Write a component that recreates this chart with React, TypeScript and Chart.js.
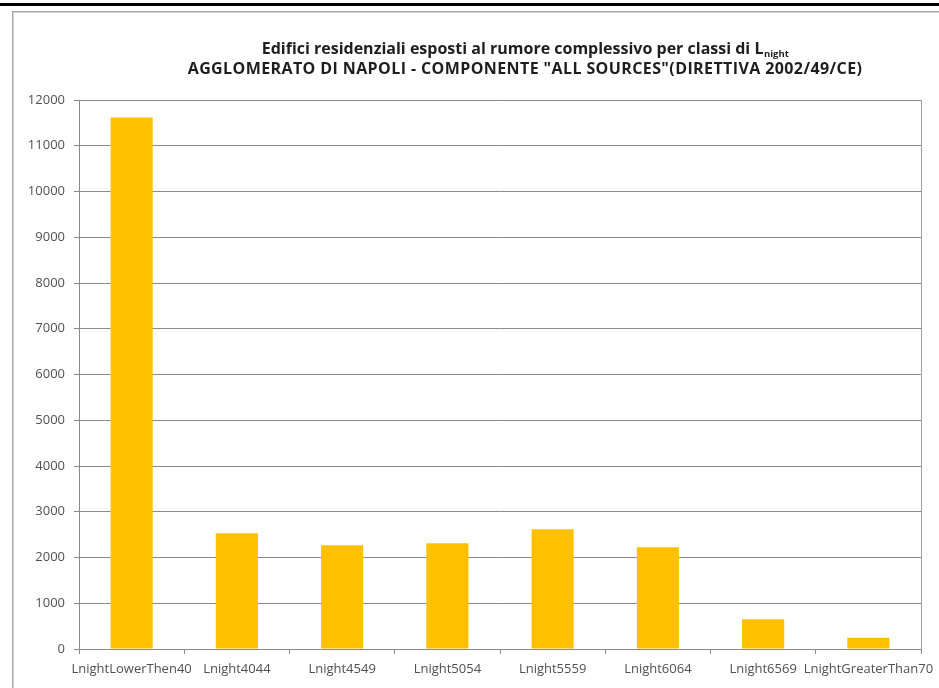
import React, { useEffect, useRef } from "react";
import { Chart, registerables } from "chart.js";

Chart.register(...registerables);

const categories = [
  "LnightLowerThen40",
  "Lnight4044",
  "Lnight4549",
  "Lnight5054",
  "Lnight5559",
  "Lnight6064",
  "Lnight6569",
  "LnightGreaterThan70",
];
const buildings = [11620, 2530, 2270, 2310, 2615, 2225, 650, 245];
const yMin = 0;
const yMax = 12000;
const yStep = 1000;

const titleLine1 = "Edifici residenziali esposti al rumore complessivo per classi di L";
const titleSub = "night";
const titleLine2 = 'AGGLOMERATO DI NAPOLI - COMPONENTE "ALL SOURCES"(DIRETTIVA 2002/49/CE)';

const FONT = "'Open Sans', Lato, 'Liberation Sans', sans-serif";
const AXIS_GRAY = "#8a8a8a";

const titlePlugin = {
  id: "customTitle",
  afterDraw(chart: any) {
    const ctx = chart.ctx as CanvasRenderingContext2D;
    const cx = 525;
    ctx.save();
    ctx.fillStyle = "#1e1e1e";
    ctx.textBaseline = "alphabetic";
    ctx.font = `bold 16px ${FONT}`;
    const w1 = ctx.measureText(titleLine1).width;
    ctx.font = `bold 9.5px ${FONT}`;
    const ws = ctx.measureText(titleSub).width;
    const x0 = cx - (w1 + ws) / 2;
    ctx.textAlign = "left";
    ctx.font = `bold 16px ${FONT}`;
    ctx.fillText(titleLine1, x0, 54);
    ctx.font = `bold 9.5px ${FONT}`;
    ctx.fillText(titleSub, x0 + w1 + 0.5, 57);
    ctx.font = `bold 16px ${FONT}`;
    (ctx as any).letterSpacing = "0.4px";
    ctx.textAlign = "center";
    ctx.fillText(titleLine2, cx, 74);
    ctx.restore();
  },
};

const plotBorderPlugin = {
  id: "plotBorder",
  afterDraw(chart: any) {
    const ctx = chart.ctx as CanvasRenderingContext2D;
    const a = chart.chartArea;
    ctx.save();
    ctx.strokeStyle = "#a0a0a0";
    ctx.lineWidth = 1;
    ctx.beginPath();
    ctx.moveTo(Math.round(a.right) + 0.5, a.top);
    ctx.lineTo(Math.round(a.right) + 0.5, a.bottom);
    ctx.stroke();
    ctx.restore();
  },
};

export default function App() {
  const ref = useRef<HTMLCanvasElement | null>(null);

  useEffect(() => {
    if (!ref.current) return;
    const chart = new Chart(ref.current, {
      type: "bar",
      data: {
        labels: categories,
        datasets: [
          {
            data: buildings,
            backgroundColor: "#FFC000",
            borderWidth: 0,
            barPercentage: 0.4,
            categoryPercentage: 1.0,
          },
        ],
      },
      options: {
        animation: false,
        responsive: false,
        maintainAspectRatio: false,
        layout: { padding: { top: 100, right: 18, left: 0, bottom: 0 } },
        plugins: {
          legend: { display: false },
          tooltip: { enabled: false },
          title: { display: false },
        },
        scales: {
          x: {
            grid: {
              display: true,
              drawOnChartArea: false,
              drawTicks: true,
              tickLength: 5,
              color: AXIS_GRAY,
              offset: true,
            },
            border: { color: AXIS_GRAY, width: 1 },
            ticks: {
              font: { family: FONT, size: 13 },
              color: "#505050",
              maxRotation: 0,
              minRotation: 0,
              autoSkip: false,
              padding: 7,
            },
            afterFit: (s: any) => {
              s.height = 39;
              s.paddingLeft = 0;
              s.paddingRight = 0;
            },
          },
          y: {
            min: yMin,
            max: yMax,
            ticks: {
              stepSize: yStep,
              font: { family: FONT, size: 13 },
              color: "#505050",
              padding: 9,
              callback: (v: any) => String(v),
            },
            grid: { color: AXIS_GRAY, tickLength: 5 },
            border: { color: AXIS_GRAY, width: 1 },
            afterFit: (s: any) => {
              s.width = 79;
            },
          },
        },
      },
      plugins: [titlePlugin, plotBorderPlugin],
    });
    return () => chart.destroy();
  }, []);

  return (
    <div
      style={{
        position: "fixed",
        left: 0,
        top: 0,
        width: 939,
        height: 688,
        background: "#ffffff",
        overflow: "hidden",
      }}
    >
      <div
        style={{
          position: "absolute",
          left: 0,
          top: 3,
          width: 939,
          height: 3,
          background: "#000000",
        }}
      />
      <div
        style={{
          position: "absolute",
          left: 12,
          top: 11,
          width: 940,
          height: 700,
          border: "1px solid #a8a8a8",
          boxShadow: "1px 1px 0 #d4d4d4 inset",
        }}
      />
      <canvas
        ref={ref}
        width={939}
        height={688}
        style={{ position: "absolute", left: 0, top: 0, width: 939, height: 688 }}
      />
    </div>
  );
}
